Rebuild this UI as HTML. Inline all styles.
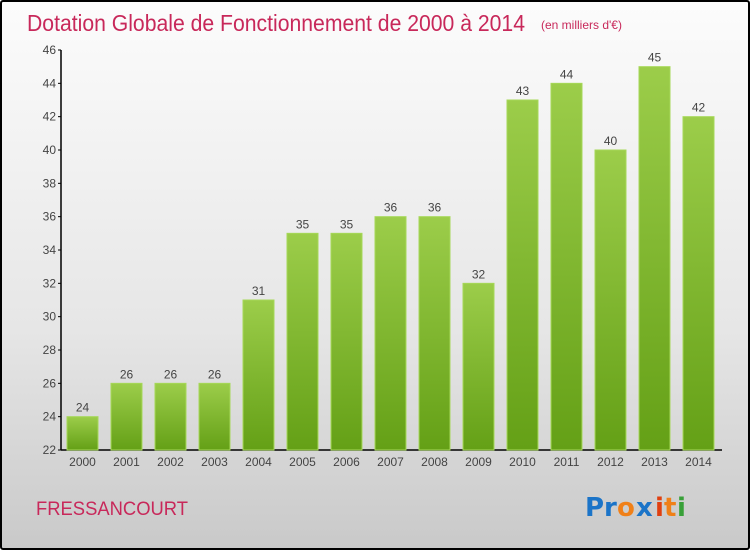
<!DOCTYPE html>
<html><head><meta charset="utf-8"><style>
html,body{margin:0;padding:0;}
body{width:750px;height:550px;overflow:hidden;font-family:"Liberation Sans",sans-serif;}
#wrap{position:relative;width:746px;height:546px;border:2px solid #000;border-radius:3px;background:linear-gradient(#fcfcfc,#e6e6e6 60%,#c9c9c9);}
</style></head><body>
<div id="wrap">
<svg id="chart" width="746" height="546" viewBox="2 2 746 546" style="position:absolute;left:0;top:0">
<defs><linearGradient id="bg" x1="0" y1="0" x2="0" y2="1"><stop offset="0" stop-color="#9ccd4a"/><stop offset="1" stop-color="#64a016"/></linearGradient></defs>
<text x="27" y="31" font-size="23" fill="#c8285a" font-family="Liberation Sans, sans-serif" textLength="498" lengthAdjust="spacingAndGlyphs">Dotation Globale de Fonctionnement de 2000 à 2014</text>
<text x="541" y="29" font-size="12" fill="#c8285a">(en milliers d'€)</text>
<g id="axes"></g>
<g id="bars"></g>
<text x="36" y="515" font-size="19" fill="#c8285a" textLength="152" lengthAdjust="spacingAndGlyphs">FRESSANCOURT</text>
<g font-size="26" font-weight="bold" font-family="DejaVu Sans, sans-serif">
<text x="585" y="516" fill="#1b74c8">P</text><text x="604" y="516" fill="#1b74c8">r</text><text x="617" y="516" fill="#f08018">o</text><text x="636" y="516" fill="#1b74c8">x</text><text x="655" y="516" fill="#e04010">i</text><text x="664" y="516" fill="#f08018">t</text><text x="677" y="516" fill="#38a038">i</text>
</g>
</svg>
</div>
<script>
const categories=["2000","2001","2002","2003","2004","2005","2006","2007","2008","2009","2010","2011","2012","2013","2014"];
const values=[24,26,26,26,31,35,35,36,36,32,43,44,40,45,42];
const yTicks=[22,24,26,28,30,32,34,36,38,40,42,44,46];
const NS="http://www.w3.org/2000/svg";
const yMin=22,yMax=46,yTop=50,yBot=450;
function y(v){return yBot-(v-yMin)/(yMax-yMin)*(yBot-yTop);}
function x(i){return 82.5+i*44;}
function mk(t,a,p){const e=document.createElementNS(NS,t);for(const k in a)e.setAttribute(k,a[k]);p.appendChild(e);return e;}
const axes=document.getElementById('axes'),bars=document.getElementById('bars');
let yl=mk('line',{x1:61,y1:yTop,x2:61,y2:yBot,stroke:'#000','stroke-width':1.5},axes);


let xl=mk('line',{x1:61,y1:yBot,x2:722,y2:yBot,stroke:'#000','stroke-width':1.5},axes);


yTicks.forEach(v=>{
  mk('line',{x1:58,y1:y(v),x2:61,y2:y(v),stroke:'#000'},axes);
  const t=mk('text',{x:56,y:y(v)+4,'font-size':12,fill:'#444','text-anchor':'end'},axes);
  t.textContent=v;
  
  
});
categories.forEach((c,i)=>{
  const v=values[i];
  const r=mk('rect',{x:x(i)-15.5,y:y(v),width:31,height:yBot-y(v),fill:'url(#bg)',stroke:'#a6d858','stroke-width':1},bars);
  
  
  const l=mk('text',{x:x(i),y:y(v)-5,'font-size':12,fill:'#444','text-anchor':'middle'},bars);
  l.textContent=v;
  
  
  const xt=mk('text',{x:x(i),y:466,'font-size':12,fill:'#444','text-anchor':'middle'},axes);
  xt.textContent=c;
  
  
});
</script>
</body></html>
